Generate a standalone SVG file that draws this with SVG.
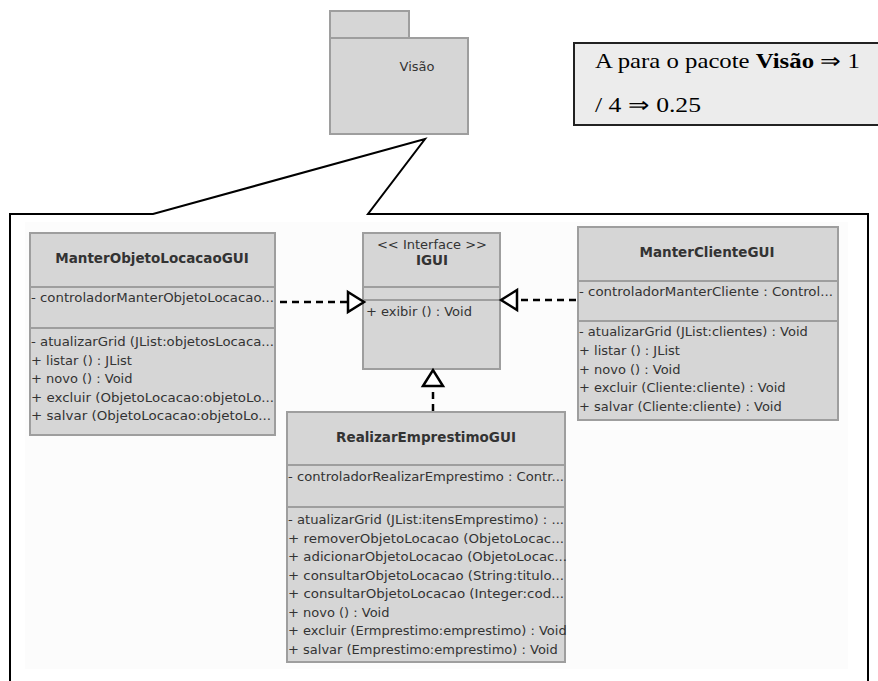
<svg xmlns="http://www.w3.org/2000/svg" width="878" height="681" viewBox="0 0 878 681">
  <defs>
    <style>
      .box { fill: #d6d6d6; stroke: #9e9e9e; stroke-width: 2; }
      .sep { stroke: #9e9e9e; stroke-width: 2; fill: none; }
      .txt { font-family: "DejaVu Sans", Verdana, sans-serif; font-size: 13px; fill: #333; }
      .ttl { font-family: "DejaVu Sans", Verdana, sans-serif; font-size: 13.5px; font-weight: bold; fill: #333; text-anchor: middle; }
      .frame { stroke: #000; stroke-width: 2; fill: none; }
      .dash { stroke: #000; stroke-width: 2.5; stroke-dasharray: 7 5; fill: none; }
      .head { stroke: #000; stroke-width: 2.5; fill: #fff; stroke-linejoin: miter; }
      .note { font-family: "Liberation Serif", "Times New Roman", serif; font-size: 21px; fill: #000; }
    </style>
  </defs>

  <rect width="878" height="681" fill="#fff"/>
  <rect x="25" y="222" width="823" height="447" fill="#fcfcfc"/>

  <!-- package icon -->
  <g id="pkg-visao">
    <rect class="box" x="330" y="11" width="79" height="27"/>
    <rect class="box" x="330" y="38" width="138" height="96"/>
    <text class="txt" x="417" y="71" text-anchor="middle" font-size="12">Visão</text>
  </g>

  <!-- metric note -->
  <g id="note">
    <rect x="574" y="43" width="320" height="82" fill="#ececec" stroke="#222" stroke-width="2"/>
    <text class="note" x="595" y="68" textLength="265" lengthAdjust="spacingAndGlyphs">A para o pacote <tspan font-weight="bold">Visão</tspan> ⇒ 1</text>
    <text class="note" x="595" y="112" textLength="106" lengthAdjust="spacingAndGlyphs">/ 4 ⇒ 0.25</text>
  </g>

  <!-- zoom frame that expands the package -->
  <g id="frame">
    <polyline class="frame" points="10,690 10,214 153,214 425,139 368,214 868,214 868,690"/>
  </g>

  <!-- ManterObjetoLocacaoGUI -->
  <g id="manter-objeto-locacao-gui">
    <rect class="box" x="30" y="233" width="245" height="202"/>
    <line class="sep" x1="30" y1="287" x2="275" y2="287"/>
    <line class="sep" x1="30" y1="328" x2="275" y2="328"/>
    <text class="ttl" x="152" y="263">ManterObjetoLocacaoGUI</text>
    <text class="txt" x="31" y="302" textLength="243" lengthAdjust="spacingAndGlyphs">- controladorManterObjetoLocacao...</text>
    <text class="txt" x="31" y="346" textLength="243" lengthAdjust="spacingAndGlyphs">- atualizarGrid (JList:objetosLocaca...</text>
    <text class="txt" x="31" y="364.5">+ listar () : JList</text>
    <text class="txt" x="31" y="383">+ novo () : Void</text>
    <text class="txt" x="31" y="401.5" textLength="243" lengthAdjust="spacingAndGlyphs">+ excluir (ObjetoLocacao:objetoLo...</text>
    <text class="txt" x="31" y="420" textLength="240" lengthAdjust="spacingAndGlyphs">+ salvar (ObjetoLocacao:objetoLo...</text>
  </g>

  <!-- IGUI interface -->
  <g id="igui">
    <rect class="box" x="363" y="233" width="137" height="136"/>
    <line class="sep" x1="363" y1="287" x2="500" y2="287"/>
    <line class="sep" x1="363" y1="300" x2="500" y2="300"/>
    <text class="txt" x="432" y="249" text-anchor="middle" font-size="12">&lt;&lt; Interface &gt;&gt;</text>
    <text class="ttl" x="432" y="265" font-size="13">IGUI</text>
    <text class="txt" x="366" y="316">+ exibir () : Void</text>
  </g>

  <!-- ManterClienteGUI -->
  <g id="manter-cliente-gui">
    <rect class="box" x="578" y="227" width="260" height="193"/>
    <line class="sep" x1="578" y1="281" x2="838" y2="281"/>
    <line class="sep" x1="578" y1="321" x2="838" y2="321"/>
    <text class="ttl" x="707" y="257">ManterClienteGUI</text>
    <text class="txt" x="579" y="296" textLength="254" lengthAdjust="spacingAndGlyphs">- controladorManterCliente : Control...</text>
    <text class="txt" x="579" y="336">- atualizarGrid (JList:clientes) : Void</text>
    <text class="txt" x="579" y="355">+ listar () : JList</text>
    <text class="txt" x="579" y="373.5">+ novo () : Void</text>
    <text class="txt" x="579" y="392">+ excluir (Cliente:cliente) : Void</text>
    <text class="txt" x="579" y="411">+ salvar (Cliente:cliente) : Void</text>
  </g>

  <!-- RealizarEmprestimoGUI -->
  <g id="realizar-emprestimo-gui">
    <rect class="box" x="287" y="412" width="278" height="250"/>
    <line class="sep" x1="287" y1="465" x2="565" y2="465"/>
    <line class="sep" x1="287" y1="507" x2="565" y2="507"/>
    <text class="ttl" x="426" y="442">RealizarEmprestimoGUI</text>
    <text class="txt" x="288" y="481" textLength="276" lengthAdjust="spacingAndGlyphs">- controladorRealizarEmprestimo : Contr...</text>
    <text class="txt" x="288" y="524" textLength="276" lengthAdjust="spacingAndGlyphs">- atualizarGrid (JList:itensEmprestimo) : ...</text>
    <text class="txt" x="288" y="542.5" textLength="276" lengthAdjust="spacingAndGlyphs">+ removerObjetoLocacao (ObjetoLocac...</text>
    <text class="txt" x="288" y="561" textLength="279" lengthAdjust="spacingAndGlyphs">+ adicionarObjetoLocacao (ObjetoLocac...</text>
    <text class="txt" x="288" y="579.5" textLength="276" lengthAdjust="spacingAndGlyphs">+ consultarObjetoLocacao (String:titulo...</text>
    <text class="txt" x="288" y="598" textLength="276" lengthAdjust="spacingAndGlyphs">+ consultarObjetoLocacao (Integer:cod...</text>
    <text class="txt" x="288" y="616.5">+ novo () : Void</text>
    <text class="txt" x="288" y="635">+ excluir (Ermprestimo:emprestimo) : Void</text>
    <text class="txt" x="288" y="653.5">+ salvar (Emprestimo:emprestimo) : Void</text>
  </g>

  <!-- realization connectors -->
  <g id="connectors">
    <line class="dash" x1="280" y1="302" x2="348" y2="302"/>
    <polygon class="head" points="348,292 364,302 348,312"/>
    <line class="dash" x1="576" y1="300" x2="517" y2="300"/>
    <polygon class="head" points="517,290 501,300 517,310"/>
    <line class="dash" x1="433" y1="411" x2="433" y2="386"/>
    <polygon class="head" points="423,386 433,370 443,386"/>
  </g>
</svg>
